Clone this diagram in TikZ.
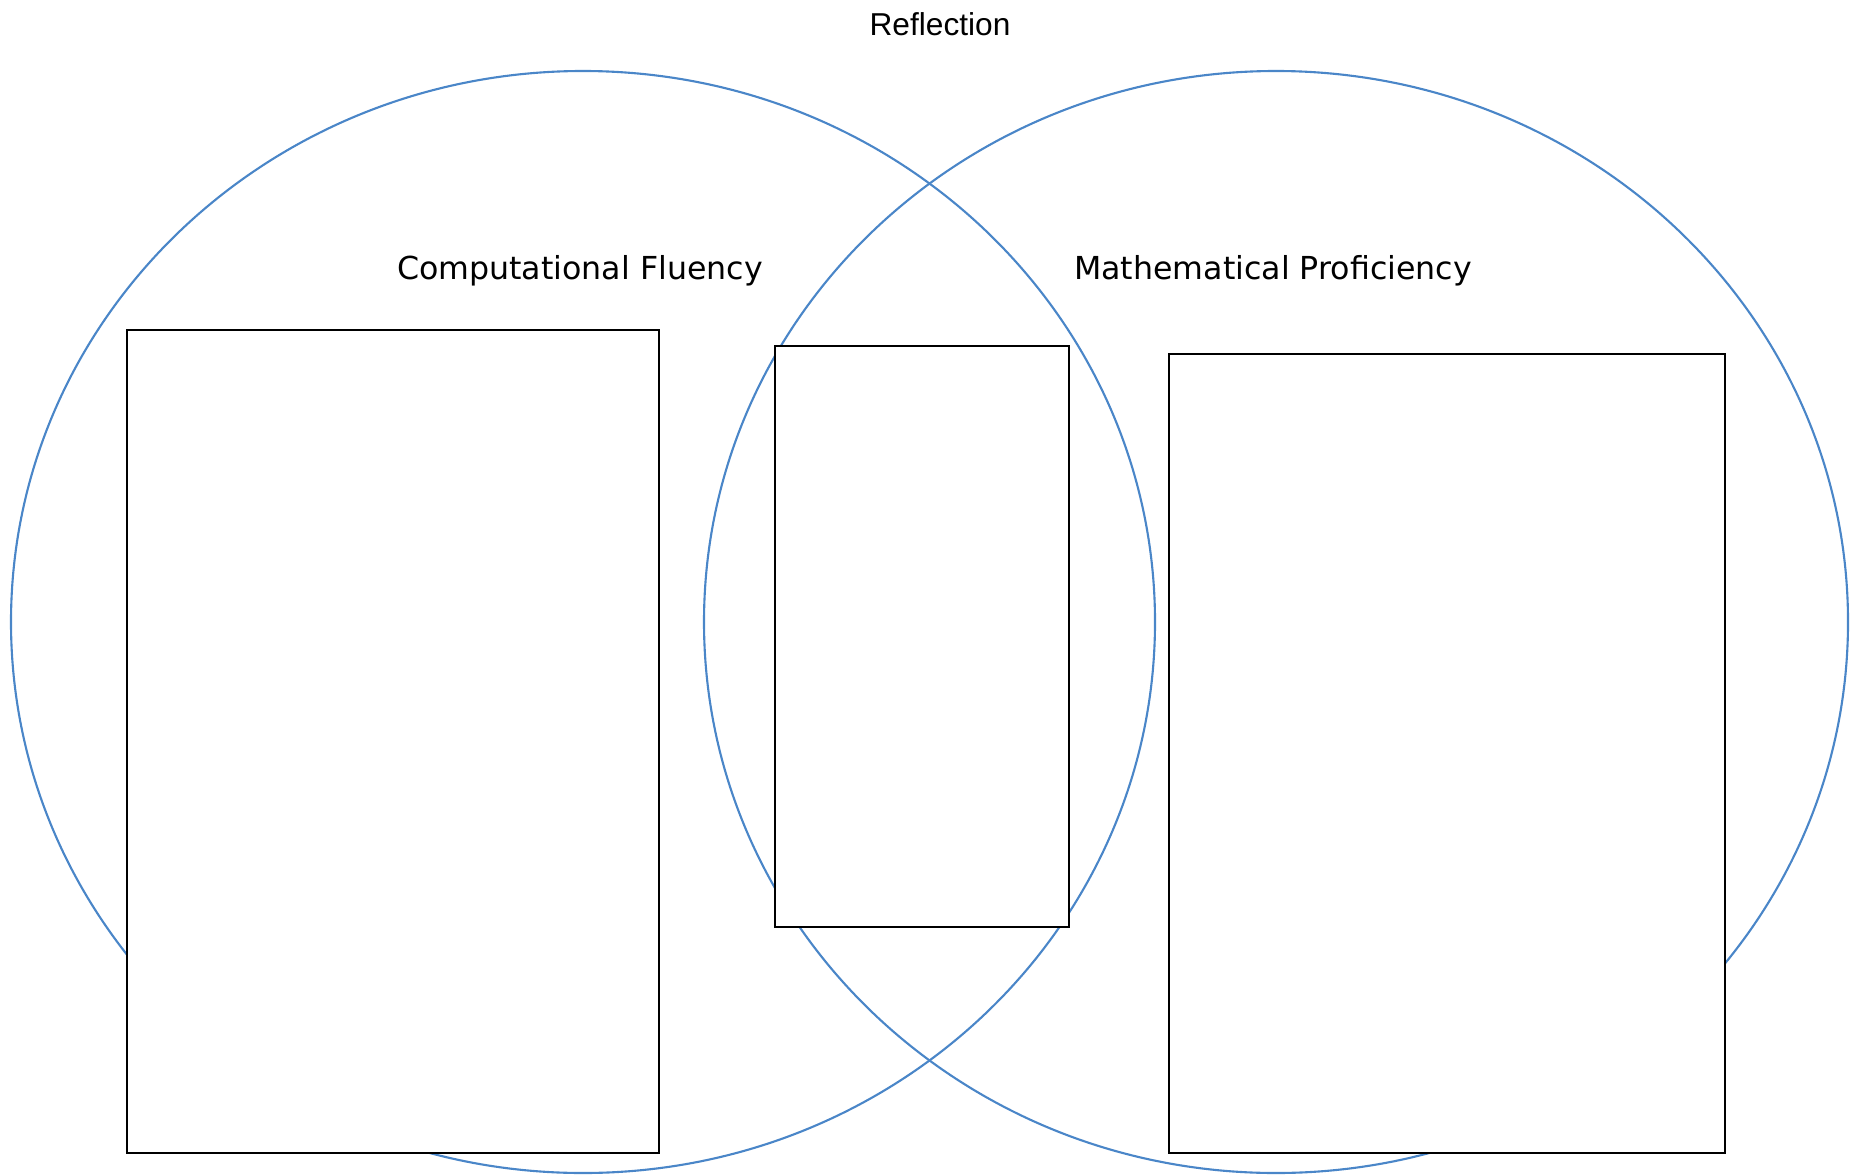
\documentclass[tikz,border=0pt]{standalone}
\usepackage{fontspec}
\setmainfont{DejaVu Sans}
\newfontfamily\arialfont{Liberation Sans}

\begin{document}
\begin{tikzpicture}[x=0.01cm, y=-0.01cm]

% --- 全局样式 ---
\tikzset{
  ring/.style={draw={rgb,255:red,74;green,134;blue,200}, line width=0.6pt},
  box/.style={draw=black, fill=white, line width=0.65pt, inner sep=0pt},
  label/.style={font=\fontsize{9pt}{10pt}\selectfont, inner sep=0pt}
}

% --- 设置参数 ---
\def\rx{572}   % 横半径
\def\ry{551}   % 纵半径

% --- 画布 ---
\useasboundingbox (0,0) rectangle (1864,1176);

% --- 两个圆 ---
\coordinate (L) at (583, 622);
\coordinate (R) at (1276, 622);
\draw[ring] (L) ellipse [x radius=\rx, y radius=\ry];
\draw[ring] (R) ellipse [x radius=\rx, y radius=\ry];

% --- 三个方框 ---
\node[box, minimum width=5.32cm, minimum height=8.23cm] (leftbox) at (393, 741.5) {};
\node[box, minimum width=2.94cm, minimum height=5.81cm] (midbox) at (922, 636.5) {};
\node[box, minimum width=5.56cm, minimum height=7.99cm] (rightbox) at (1447, 753.5) {};

% --- 标签 ---
\node[label, font=\arialfont\fontsize{9pt}{10pt}\selectfont] (title) at (940, 24) {Reflection};
\node[label] (cf) at (580, 271) {Computational Fluency};
\node[label] (mp) at (1273, 271) {Mathematical Proficiency};

\end{tikzpicture}
\end{document}
